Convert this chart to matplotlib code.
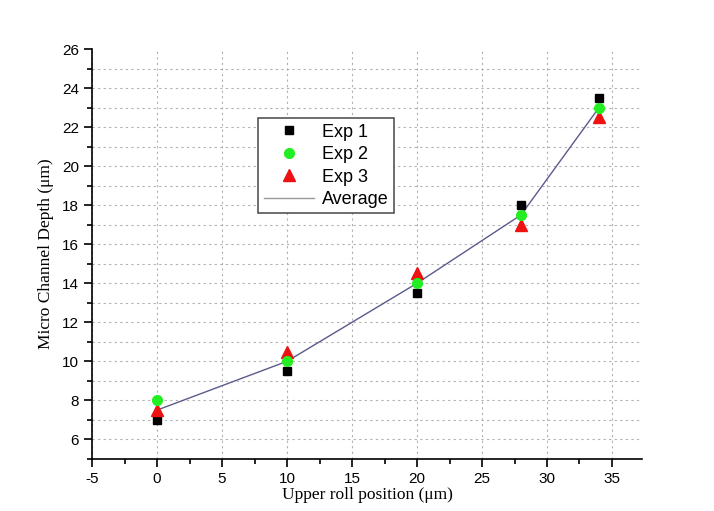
import numpy as np
import matplotlib
matplotlib.use("Agg")
import matplotlib.pyplot as plt
from matplotlib.ticker import MultipleLocator

plt.rcParams["axes.unicode_minus"] = False

# data
positions = [0, 10, 20, 28, 34]
exp1 = [7.0, 9.5, 13.5, 18.0, 23.5]
exp2 = [8.0, 10.0, 14.0, 17.5, 23.0]
exp3 = [7.5, 10.5, 14.5, 17.0, 22.5]
average = [7.5, 10.0, 14.0, 17.5, 23.0]

fig = plt.figure(figsize=(7.14, 5.11), dpi=100)
ax = fig.add_axes([0.129, 0.102, 0.770, 0.802])

ax.plot(positions, average, color="#5a5a8c", lw=1.0, label="Average", zorder=2)
ax.plot(positions, exp1, ls="none", marker="s", ms=6, color="black", label="Exp 1", zorder=3)
ax.plot(positions, exp2, ls="none", marker="o", ms=7, color="#22ee22", label="Exp 2", zorder=4)
ax.plot(positions, exp3, ls="none", marker="^", ms=8, color="#ee1111", label="Exp 3", zorder=3)

ax.set_xlim(-5, 37.3)
ax.set_ylim(5, 26)
ax.xaxis.set_major_locator(MultipleLocator(5))
ax.xaxis.set_minor_locator(MultipleLocator(2.5))
ax.yaxis.set_minor_locator(MultipleLocator(1))
ax.set_yticks(np.arange(6, 27, 2))

ax.spines["top"].set_visible(False)
ax.spines["right"].set_visible(False)
ax.spines["left"].set_linewidth(1.2)
ax.spines["bottom"].set_linewidth(1.2)
ax.tick_params(which="major", direction="out", length=6, width=1.2,
               labelsize=11, labelfontfamily="Liberation Sans")
ax.tick_params(which="minor", direction="out", length=3.5, width=1.2)

ax.grid(True, which="major", axis="x", ls=(0, (2, 3)), color="#b0b0b0", lw=0.8)
ax.grid(True, which="both", axis="y", ls=(0, (2, 3)), color="#b0b0b0", lw=0.8)
ax.set_axisbelow(True)
# no grid line along the top edge at 26
ax.yaxis.get_major_ticks()[-1].gridline.set_visible(False)

ax.set_xlabel("Upper roll position (μm)", family="Liberation Serif", fontsize=12.5, labelpad=1)
ax.set_ylabel("Micro Channel Depth (μm)", family="Liberation Serif", fontsize=12.5, labelpad=6)

handles, labels = ax.get_legend_handles_labels()
order = [1, 2, 3, 0]
leg = ax.legend([handles[i] for i in order], [labels[i] for i in order],
                loc="upper left", bbox_to_anchor=(0.286, 0.853), fancybox=False,
                edgecolor="#555555", framealpha=1, prop={"family": "Liberation Sans", "size": 13},
                handlelength=2.8, borderpad=0.3, labelspacing=0.3, handletextpad=0.4)
leg.get_frame().set_linewidth(1.2)
leg.legend_handles[3].set_color("#999999")

fig.savefig("out.png", dpi=100)
